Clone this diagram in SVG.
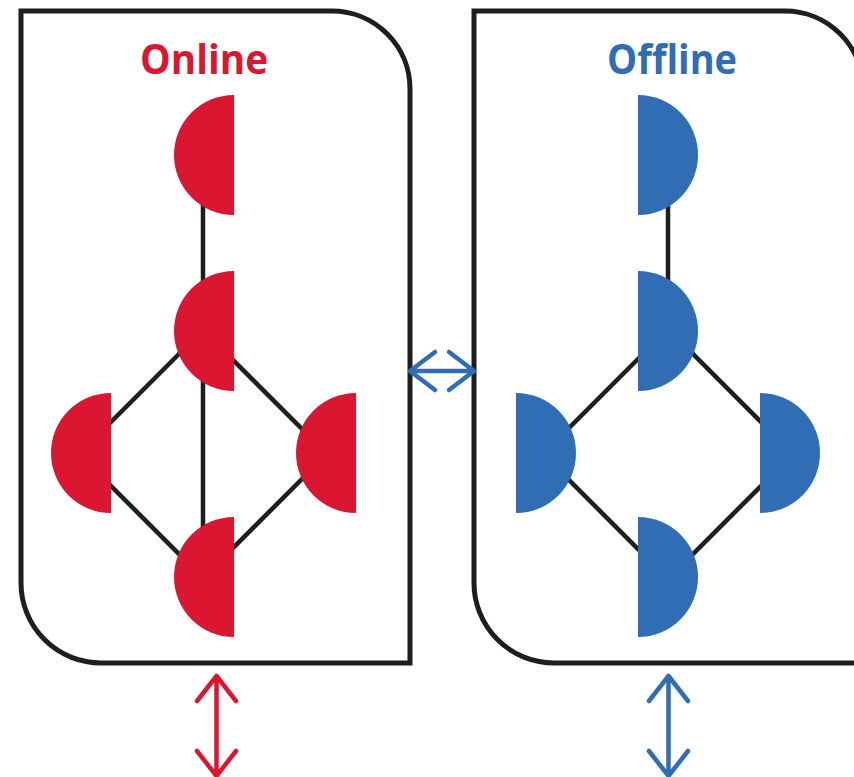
<svg xmlns="http://www.w3.org/2000/svg" width="854" height="777" viewBox="0 0 854 777">
  <defs>
    <style>
      .frame { fill: #ffffff; stroke: #1e1e1c; stroke-width: 5; stroke-linejoin: miter; }
      .edge { fill: none; stroke: #1e1e1c; stroke-width: 4.5; }
      .title { font-family: "Open Sans", "Noto Sans", "Liberation Sans", sans-serif; font-weight: 700; font-size: 41px; text-anchor: middle; }
      .online { fill: #db1631; }
      .offline { fill: #306db4; }
      .arrow { fill: none; stroke-width: 4.5; stroke-linecap: round; stroke-linejoin: round; }
      .arrow-red { stroke: #db1631; }
      .arrow-blue { stroke: #306db4; }
    </style>
  </defs>

  <rect x="0" y="0" width="854" height="777" fill="#ffffff"/>

  <!-- Panels -->
  <g id="panel-online">
    <path class="frame" d="M21,11 H332 A78,78 0 0 1 410,89 V663 H101 A80,80 0 0 1 21,583 Z"/>
    <text class="title online" x="204" y="74" textLength="128" lengthAdjust="spacingAndGlyphs">Online</text>
  </g>
  <g id="panel-offline">
    <path class="frame" d="M474,11 H785 A78,78 0 0 1 863,89 V663 H554 A80,80 0 0 1 474,583 Z"/>
    <text class="title offline" x="672" y="74" textLength="130" lengthAdjust="spacingAndGlyphs">Offline</text>
  </g>

  <!-- Connectors -->
  <g id="connectors">
    <path class="edge" d="M203,155 V578"/>
    <path class="edge" d="M203,330 L79,454 L203,578 L327,454 Z"/>
    <path class="edge" d="M668,155 V329"/>
    <path class="edge" d="M668,329 L543,454 L668,579 L793,454 Z"/>
    <path class="arrow arrow-blue" d="M410,371 H474 M435,352 L410,371 L435,390 M449,352 L474,371 L449,390"/>
    <path class="arrow arrow-red" d="M216.5,676 V776 M197,701 L216.5,676 L236,701 M197,751 L216.5,776 L236,751"/>
    <path class="arrow arrow-blue" d="M668.5,676 V776 M649,701 L668.5,676 L688,701 M649,751 L668.5,776 L688,751"/>
  </g>

  <!-- Online nodes: half discs, flat side right -->
  <g id="online-n1"><path class="online" d="M234,95 A60,60 0 0 0 234,215 Z"/></g>
  <g id="online-n2"><path class="online" d="M234,271 A60,60 0 0 0 234,391 Z"/></g>
  <g id="online-n3"><path class="online" d="M111,393 A60,60 0 0 0 111,513 Z"/></g>
  <g id="online-n4"><path class="online" d="M356,393 A60,60 0 0 0 356,513 Z"/></g>
  <g id="online-n5"><path class="online" d="M234,517 A60,60 0 0 0 234,637 Z"/></g>

  <!-- Offline nodes: half discs, flat side left -->
  <g id="offline-n1"><path class="offline" d="M638,95 A60,60 0 0 1 638,215 Z"/></g>
  <g id="offline-n2"><path class="offline" d="M638,271 A60,60 0 0 1 638,391 Z"/></g>
  <g id="offline-n3"><path class="offline" d="M516,393 A60,60 0 0 1 516,513 Z"/></g>
  <g id="offline-n4"><path class="offline" d="M760,393 A60,60 0 0 1 760,513 Z"/></g>
  <g id="offline-n5"><path class="offline" d="M638,517 A60,60 0 0 1 638,637 Z"/></g>
</svg>
